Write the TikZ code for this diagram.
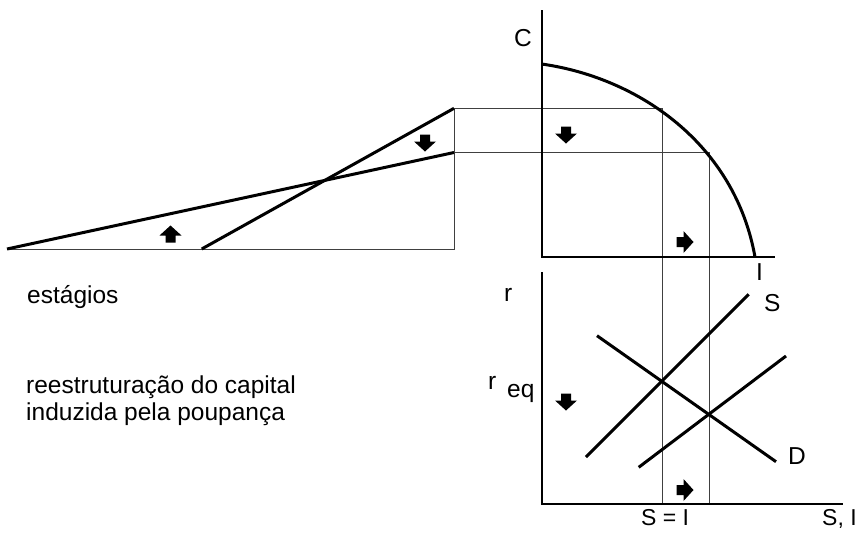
\documentclass[tikz,border=0pt]{standalone}
\usepackage{fontspec}
\setmainfont{Liberation Sans}
\begin{document}
\begin{tikzpicture}[x=1pt,y=-1pt,
  thickline/.style={line width=3pt},
  axisline/.style={line width=2pt},
  thinline/.style={line width=1pt, draw=black!75},
  lbl/.style={font=\fontsize{24.5}{29}\selectfont, inner sep=0pt, anchor=base west},
  lblsm/.style={font=\fontsize{23}{27}\selectfont, inner sep=0pt, anchor=base west},
  dnarrow/.pic={\fill (-5,-8.5) -- (5,-8.5) -- (5,-1.5) -- (11,-1.5) -- (0,8.5) -- (-11,-1.5) -- (-5,-1.5) -- cycle;},
  uparrow/.pic={\fill (-5,8.5) -- (5,8.5) -- (5,1.5) -- (11,1.5) -- (0,-8.5) -- (-11,1.5) -- (-5,1.5) -- cycle;},
  rtarrow/.pic={\fill (-8.5,-5) -- (-8.5,5) -- (-1.5,5) -- (-1.5,11) -- (8.5,0) -- (-1.5,-11) -- (-1.5,-5) -- cycle;}
]
\useasboundingbox (0,0) rectangle (860,539);

% key coordinates
\coordinate (Ctop) at (541.7,10);
\coordinate (Otop) at (541.7,257);
\coordinate (Iend) at (775,257);
\coordinate (Rtop) at (541.7,272);
\coordinate (Obot) at (541.7,504);
\coordinate (SIend) at (843,504);
\coordinate (c0) at (541.7,64);
\coordinate (c3) at (755,257);
\coordinate (A) at (662.3,108.3);
\coordinate (B) at (709,152.5);
\coordinate (Ab) at (662.3,504);
\coordinate (Bb) at (709,504);
\coordinate (L1) at (454,108.3);
\coordinate (L2) at (454,152.5);
\coordinate (L0) at (454,249);
\coordinate (W) at (7,249);
\coordinate (M) at (201.7,249);
\coordinate (S0) at (586,457);
\coordinate (S1) at (748.7,294.3);
\coordinate (D0) at (597,335.7);
\coordinate (D1) at (776,461.7);
\coordinate (T0) at (638.7,467.3);
\coordinate (T1) at (786,356);

% thin guide lines
\draw[thinline] (L1) -- (A) -- (Ab);
\draw[thinline] (L2) -- (B) -- (Bb);
\draw[thinline] (L1) -- (L0) -- (W);

% axes
\draw[axisline] (Ctop) -- (Otop) -- (Iend);
\draw[axisline] (Rtop) -- (Obot) -- (SIend);

% curve
\draw[thickline] (c0) .. controls (640,78) and (735,145) .. (c3);

% left lines
\draw[thickline] (W) -- (L2);
\draw[thickline] (M) -- (L1);

% lower diagram
\draw[thickline] (S0) -- (S1);
\draw[thickline] (D0) -- (D1);
\draw[thickline] (T0) -- (T1);

% block arrows
\pic at (425,143) {dnarrow};
\pic at (566,135) {dnarrow};
\pic at (566,402) {dnarrow};
\pic at (170.5,234) {uparrow};
\pic at (685,242) {rtarrow};
\pic at (685,490) {rtarrow};

% labels
\node[lbl] (lC) at (514,46) {C};
\node[lbl] (lI) at (756,280) {I};
\node[lbl] (lr) at (504,301) {r};
\node[lbl] (lreq) at (488,389) {r};
\node[lbl] (leq) at (507,397) {eq};
\node[lbl] (lS) at (764,311) {S};
\node[lbl] (lD) at (788,464) {D};
\node[lblsm] (lSI) at (641,525) {S = I};
\node[lblsm] (lSI2) at (822,525) {S, I};
\node[lbl] (lest) at (27,303) {estágios};
\node[lbl] (lre1) at (26,393) {reestruturação do capital};
\node[lbl] (lre2) at (26,420) {induzida pela poupança};
\end{tikzpicture}
\end{document}
